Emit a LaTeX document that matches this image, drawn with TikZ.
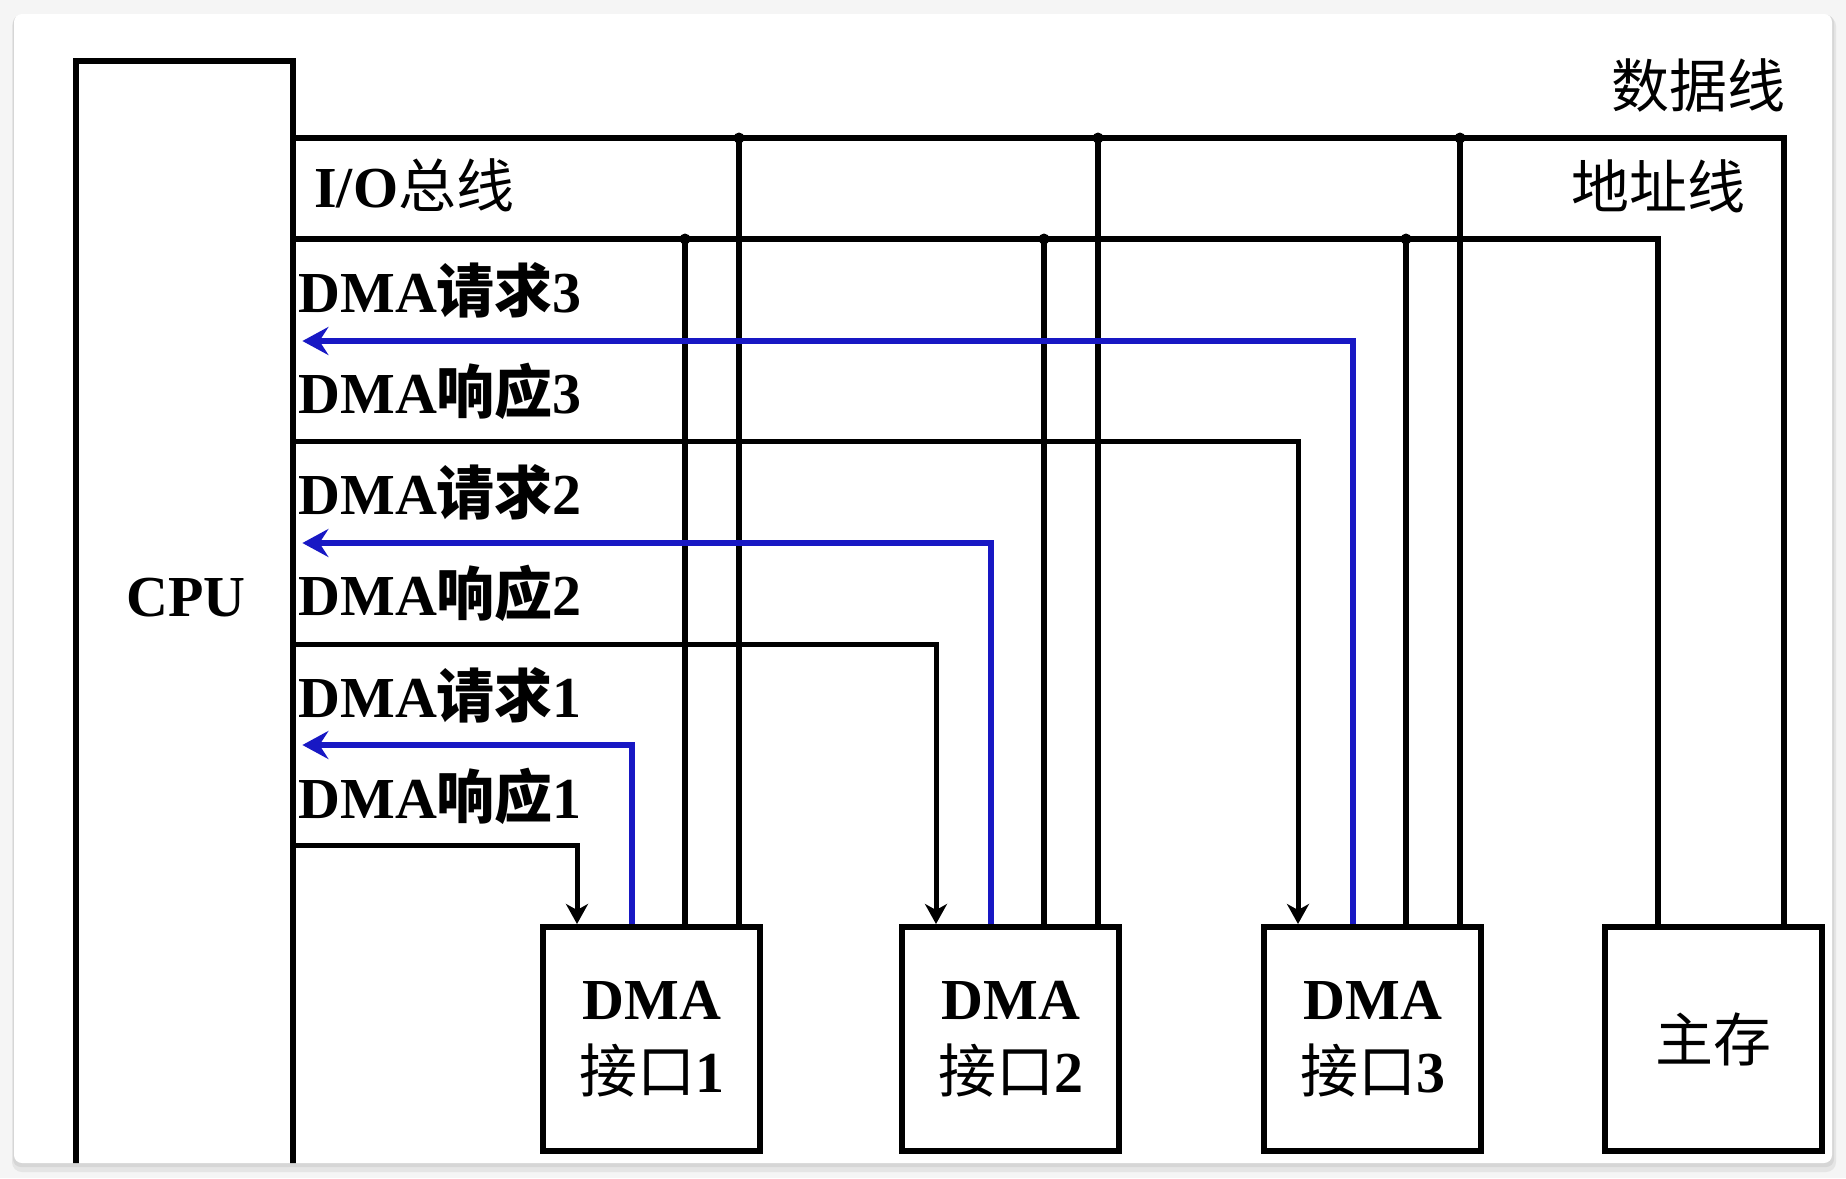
\documentclass[tikz,border=0pt]{standalone}
\usepackage{fontspec}
\setmainfont{Liberation Serif}
\newfontfamily\cjk{Noto Sans CJK SC}
\usetikzlibrary{arrows.meta,positioning}

\definecolor{reqblue}{RGB}{24,24,196}
\newcommand\labelfont{\fontsize{29pt}{36.5pt}\selectfont}

\tikzset{
  unit/.style={draw, line width=3.2pt, minimum width=108.5pt, minimum height=112pt,
    anchor=north west, inner sep=0pt, align=center, font=\labelfont},
  bus/.style={line width=3.2pt},
  tap/.style={line width=2.7pt},
  req/.style={reqblue, line width=3pt, -{Stealth[length=13pt,width=14pt,inset=4.5pt]}},
  ack/.style={line width=2.5pt, -{Stealth[length=10pt,width=11pt,inset=3pt]}},
  sig/.style={anchor=west, inner sep=0pt, font=\labelfont\bfseries},
  busname/.style={inner sep=0pt, font=\labelfont},
  junction/.style={circle, fill, inner sep=0pt, minimum size=5.5pt},
}

\begin{document}
\begin{tikzpicture}[x=0.5pt,y=-0.5pt]
\useasboundingbox (0,0) rectangle (1846,1178);

% screenshot frame
\fill[gray!8] (0,0) rectangle (1846,1178);
\fill[black!10, rounded corners=5pt] (12,16) rectangle (1836,1172);
\fill[black!16, rounded corners=4pt] (13,15) rectangle (1834,1167);
\fill[white, rounded corners=4pt] (14,14) rectangle (1832,1163);

\begin{scope}
\clip[rounded corners=4pt] (14,14) rectangle (1832,1163);
\node[draw, line width=3.2pt, anchor=north west, minimum width=108.5pt,
  minimum height=590pt, inner sep=0pt] (cpu) at (73,58) {};
\end{scope}
\node[font=\labelfont\bfseries] (cpuname) at (186,598) {CPU};

% interfaces and memory
\node[unit] (dma1) at (540,924) {\textbf{DMA}\\{\cjk 接口}\textbf{1}};
\node[unit] (dma2) at (899,924) {\textbf{DMA}\\{\cjk 接口}\textbf{2}};
\node[unit] (dma3) at (1261,924) {\textbf{DMA}\\{\cjk 接口}\textbf{3}};
\node[unit] (mem) at (1602,924) {\cjk 主存};

% bus lines
\draw[bus] (cpu.east |- 0,138) -| ([xshift=91pt]mem.north west);
\draw[bus] (cpu.east |- 0,239) -| ([xshift=28pt]mem.north west);

\node[busname, anchor=east] (dataname) at (1786,85) {\cjk 数据线};
\node[busname, anchor=east] (addrname) at (1746,186) {\cjk 地址线};
\node[busname, anchor=west] (ioname) at (314,185) {\textbf{I/O}{\cjk 总线}};

\node[sig] (req3) at (298,290) {DMA{\cjk 请求}3};
\node[sig] (ack3) at (298,391) {DMA{\cjk 响应}3};
\node[sig] (req2) at (298,492) {DMA{\cjk 请求}2};
\node[sig] (ack2) at (298,593) {DMA{\cjk 响应}2};
\node[sig] (req1) at (298,695) {DMA{\cjk 请求}1};
\node[sig] (ack1) at (298,796) {DMA{\cjk 响应}1};

\foreach \n/\ya/\yb in {1/745/845, 2/543/644, 3/341/441} {
  \draw[tap] ([xshift=72.5pt]dma\n.north west) -- ([xshift=72.5pt]dma\n.north west |- 0,239) node[junction] {};
  \draw[tap] ([xshift=99.5pt]dma\n.north west) -- ([xshift=99.5pt]dma\n.north west |- 0,138) node[junction] {};
  \draw[ack] (cpu.east |- 0,\yb) -| ([xshift=18.5pt]dma\n.north west);
  \draw[req] ([xshift=46pt]dma\n.north west) |- ([xshift=3pt]cpu.east |- 0,\ya);
}
\end{tikzpicture}
\end{document}
